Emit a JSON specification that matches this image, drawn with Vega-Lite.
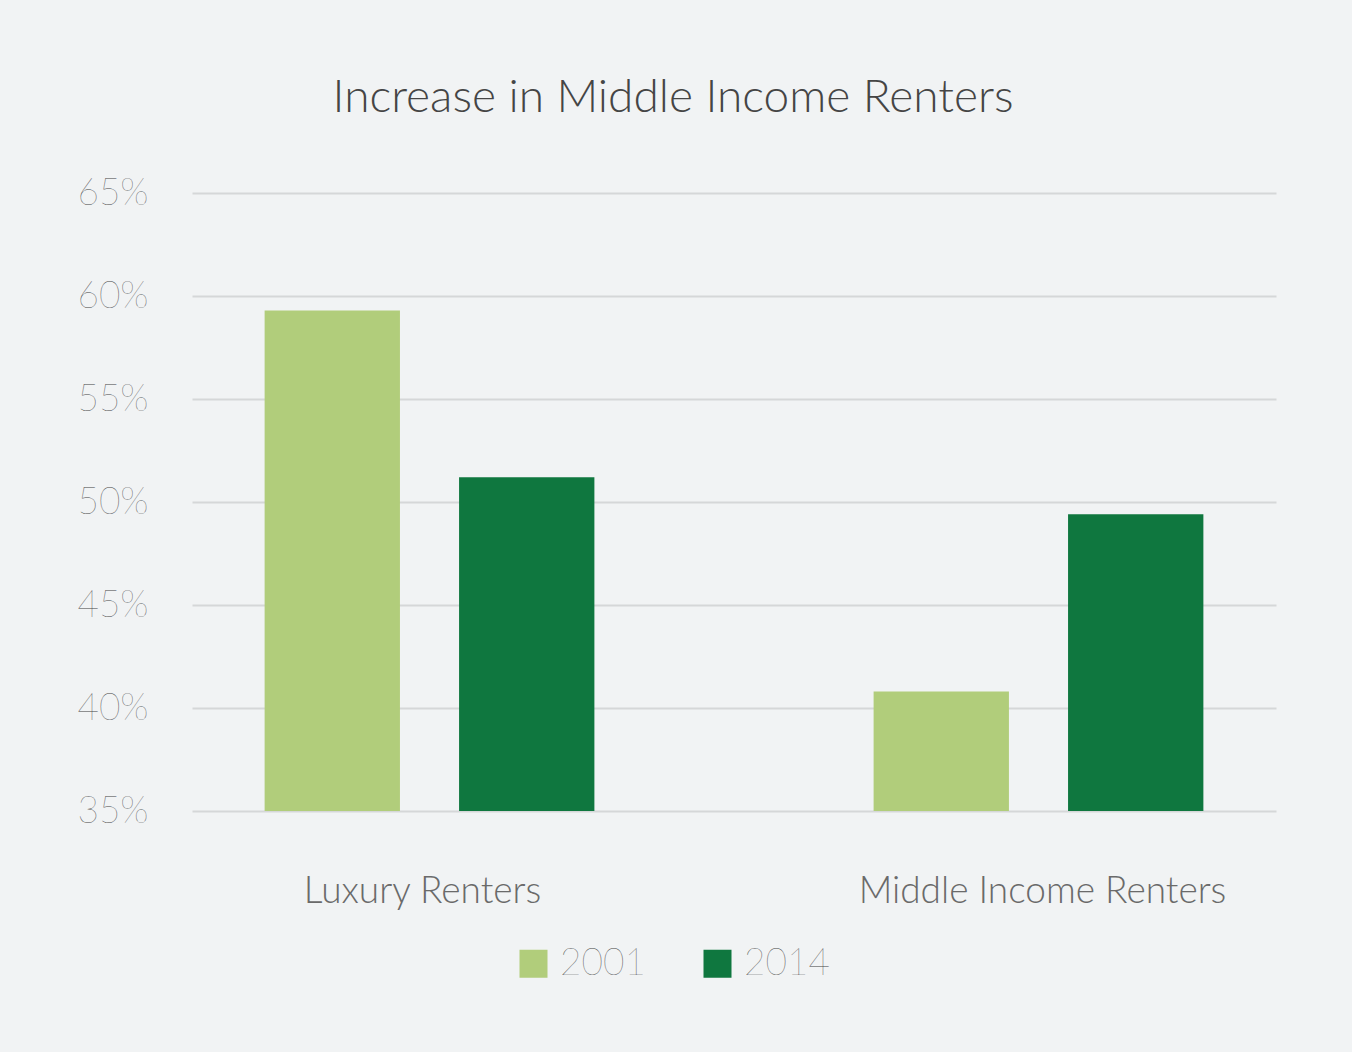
{
  "$schema": "https://vega.github.io/schema/vega-lite/v6.json",
  "width": 1084,
  "height": 618,
  "autosize": {"type": "none"},
  "padding": {"left": 192, "top": 193, "right": 76, "bottom": 241},
  "background": "#f1f3f4",
  "title": {
    "text": "Increase in Middle Income Renters",
    "font": "Lato",
    "fontWeight": 300,
    "fontSize": 46,
    "color": "#454545",
    "anchor": "middle",
    "dx": -61,
    "offset": 52
  },
  "data": {
    "values": [
      {"group": "Luxury Renters", "year": "2001", "share": 59.3},
      {"group": "Luxury Renters", "year": "2014", "share": 51.2},
      {"group": "Middle Income Renters", "year": "2001", "share": 40.8},
      {"group": "Middle Income Renters", "year": "2014", "share": 49.4}
    ]
  },
  "mark": {"type": "bar", "clip": true},
  "encoding": {
    "x": {
      "field": "group",
      "type": "nominal",
      "sort": null,
      "scale": {"paddingInner": 0.22, "paddingOuter": 0},
      "axis": {
        "title": null,
        "labelAngle": 0,
        "labelLimit": 0,
        "labelOffset": {"expr": "datum.value == 'Luxury Renters' ? -7 : 4"},
        "labelFont": "Lato",
        "labelFontWeight": 300,
        "labelFontSize": 37,
        "labelColor": "#6a6a6a",
        "labelPadding": 62,
        "domain": false,
        "ticks": false,
        "grid": false
      }
    },
    "xOffset": {
      "field": "year",
      "type": "nominal",
      "scale": {"paddingInner": 0.304, "paddingOuter": 0.3735}
    },
    "y": {
      "field": "share",
      "type": "quantitative",
      "scale": {"domain": [35, 65], "nice": false, "zero": false},
      "axis": {
        "title": null,
        "values": [35, 40, 45, 50, 55, 60, 65],
        "labelExpr": "datum.value + '%'",
        "labelFont": "Lato",
        "labelFontWeight": 200,
        "labelFontSize": 37,
        "labelColor": "#444444",
        "labelPadding": 44,
        "domain": false,
        "ticks": false,
        "grid": true,
        "gridColor": "#d5d7d8",
        "gridWidth": 2
      }
    },
    "color": {
      "field": "year",
      "type": "nominal",
      "scale": {"domain": ["2001", "2014"], "range": ["#b1cd7b", "#0f773f"]},
      "legend": {
        "title": null,
        "orient": "none",
        "direction": "horizontal",
        "legendX": 323,
        "legendY": 752,
        "symbolType": "square",
        "symbolSize": 784,
        "symbolStrokeWidth": 0,
        "labelFont": "Lato",
        "labelFontWeight": 200,
        "labelFontSize": 37,
        "labelColor": "#444444",
        "labelOffset": 8,
        "columnPadding": 53
      }
    }
  },
  "config": {
    "view": {"stroke": null}
  }
}
